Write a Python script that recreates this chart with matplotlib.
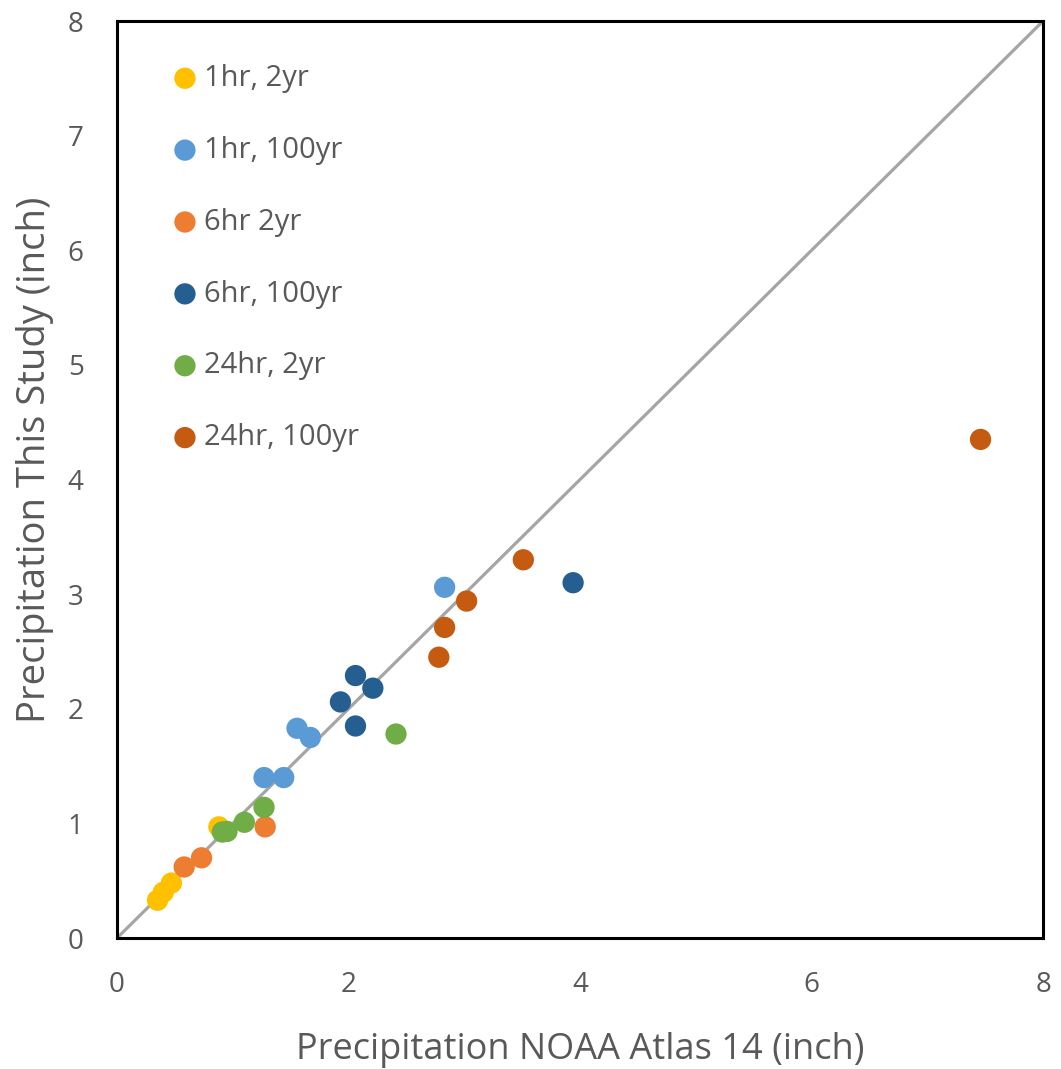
import matplotlib
matplotlib.use("Agg")
import matplotlib.pyplot as plt

# NOAA Atlas 14 (x) vs. this study (y), inches
hr1_2yr_x = [0.35, 0.40, 0.47, 0.88]
hr1_2yr_y = [0.33, 0.40, 0.48, 0.97]
hr1_100yr_x = [1.27, 1.44, 1.555, 1.67, 2.83]
hr1_100yr_y = [1.40, 1.40, 1.83, 1.75, 3.06]
hr6_2yr_x = [0.58, 0.73, 1.28]
hr6_2yr_y = [0.62, 0.70, 0.97]
hr6_100yr_x = [1.93, 2.06, 2.06, 2.21, 3.94]
hr6_100yr_y = [2.06, 2.29, 1.85, 2.18, 3.10]
hr24_2yr_x = [0.91, 0.95, 1.10, 1.27, 2.41]
hr24_2yr_y = [0.925, 0.93, 1.01, 1.14, 1.78]
hr24_100yr_x = [2.78, 2.83, 3.02, 3.51, 7.46]
hr24_100yr_y = [2.45, 2.71, 2.94, 3.30, 4.35]

labels = ["1hr, 2yr", "1hr, 100yr", "6hr 2yr", "6hr, 100yr", "24hr, 2yr", "24hr, 100yr"]
colors = ["#FFC000", "#5B9BD5", "#ED7D31", "#255E91", "#70AD47", "#C55A11"]
ticks = [0, 2, 4, 6, 8]
yticks = [0, 1, 2, 3, 4, 5, 6, 7, 8]

plt.rcParams["font.family"] = ["Open Sans", "DejaVu Sans"]

fig = plt.figure(figsize=(10.61, 10.69), dpi=100)
ax = fig.add_axes([0.1103, 0.1225, 0.8728, 0.8578])

# 1:1 reference line
ax.plot([0, 8], [0, 8], color="#A5A5A5", lw=2.3, zorder=1)

series = [
    (hr1_2yr_x, hr1_2yr_y),
    (hr1_100yr_x, hr1_100yr_y),
    (hr6_2yr_x, hr6_2yr_y),
    (hr6_100yr_x, hr6_100yr_y),
    (hr24_2yr_x, hr24_2yr_y),
    (hr24_100yr_x, hr24_100yr_y),
]
for (xs, ys), lab, c in zip(series, labels, colors):
    ax.scatter(xs, ys, s=235, color=c, label=lab, edgecolors="none", zorder=3)

ax.set_xlim(0, 8)
ax.set_ylim(0, 8)
ax.set_xticks(ticks)
ax.set_yticks(yticks)
ax.tick_params(length=0, labelsize=20, labelcolor="#595959", pad=24)
for sp in ax.spines.values():
    sp.set_linewidth(2.2)
    sp.set_color("black")

ax.set_xlabel("Precipitation NOAA Atlas 14 (inch)", fontsize=26, color="#595959")
ax.set_ylabel("Precipitation This Study (inch)", fontsize=27.5, color="#595959")
ax.xaxis.set_label_coords(0.5, -0.102)
ax.yaxis.set_label_coords(-0.068, 0.521)

leg = ax.legend(loc="upper left", bbox_to_anchor=(0.045, 0.966), frameon=False,
                fontsize=21, labelspacing=1.47, handlelength=1.0, handletextpad=0.15,
                markerscale=1.0, borderaxespad=0)
for t in leg.get_texts():
    t.set_color("#595959")

fig.savefig("out.png", dpi=100)
